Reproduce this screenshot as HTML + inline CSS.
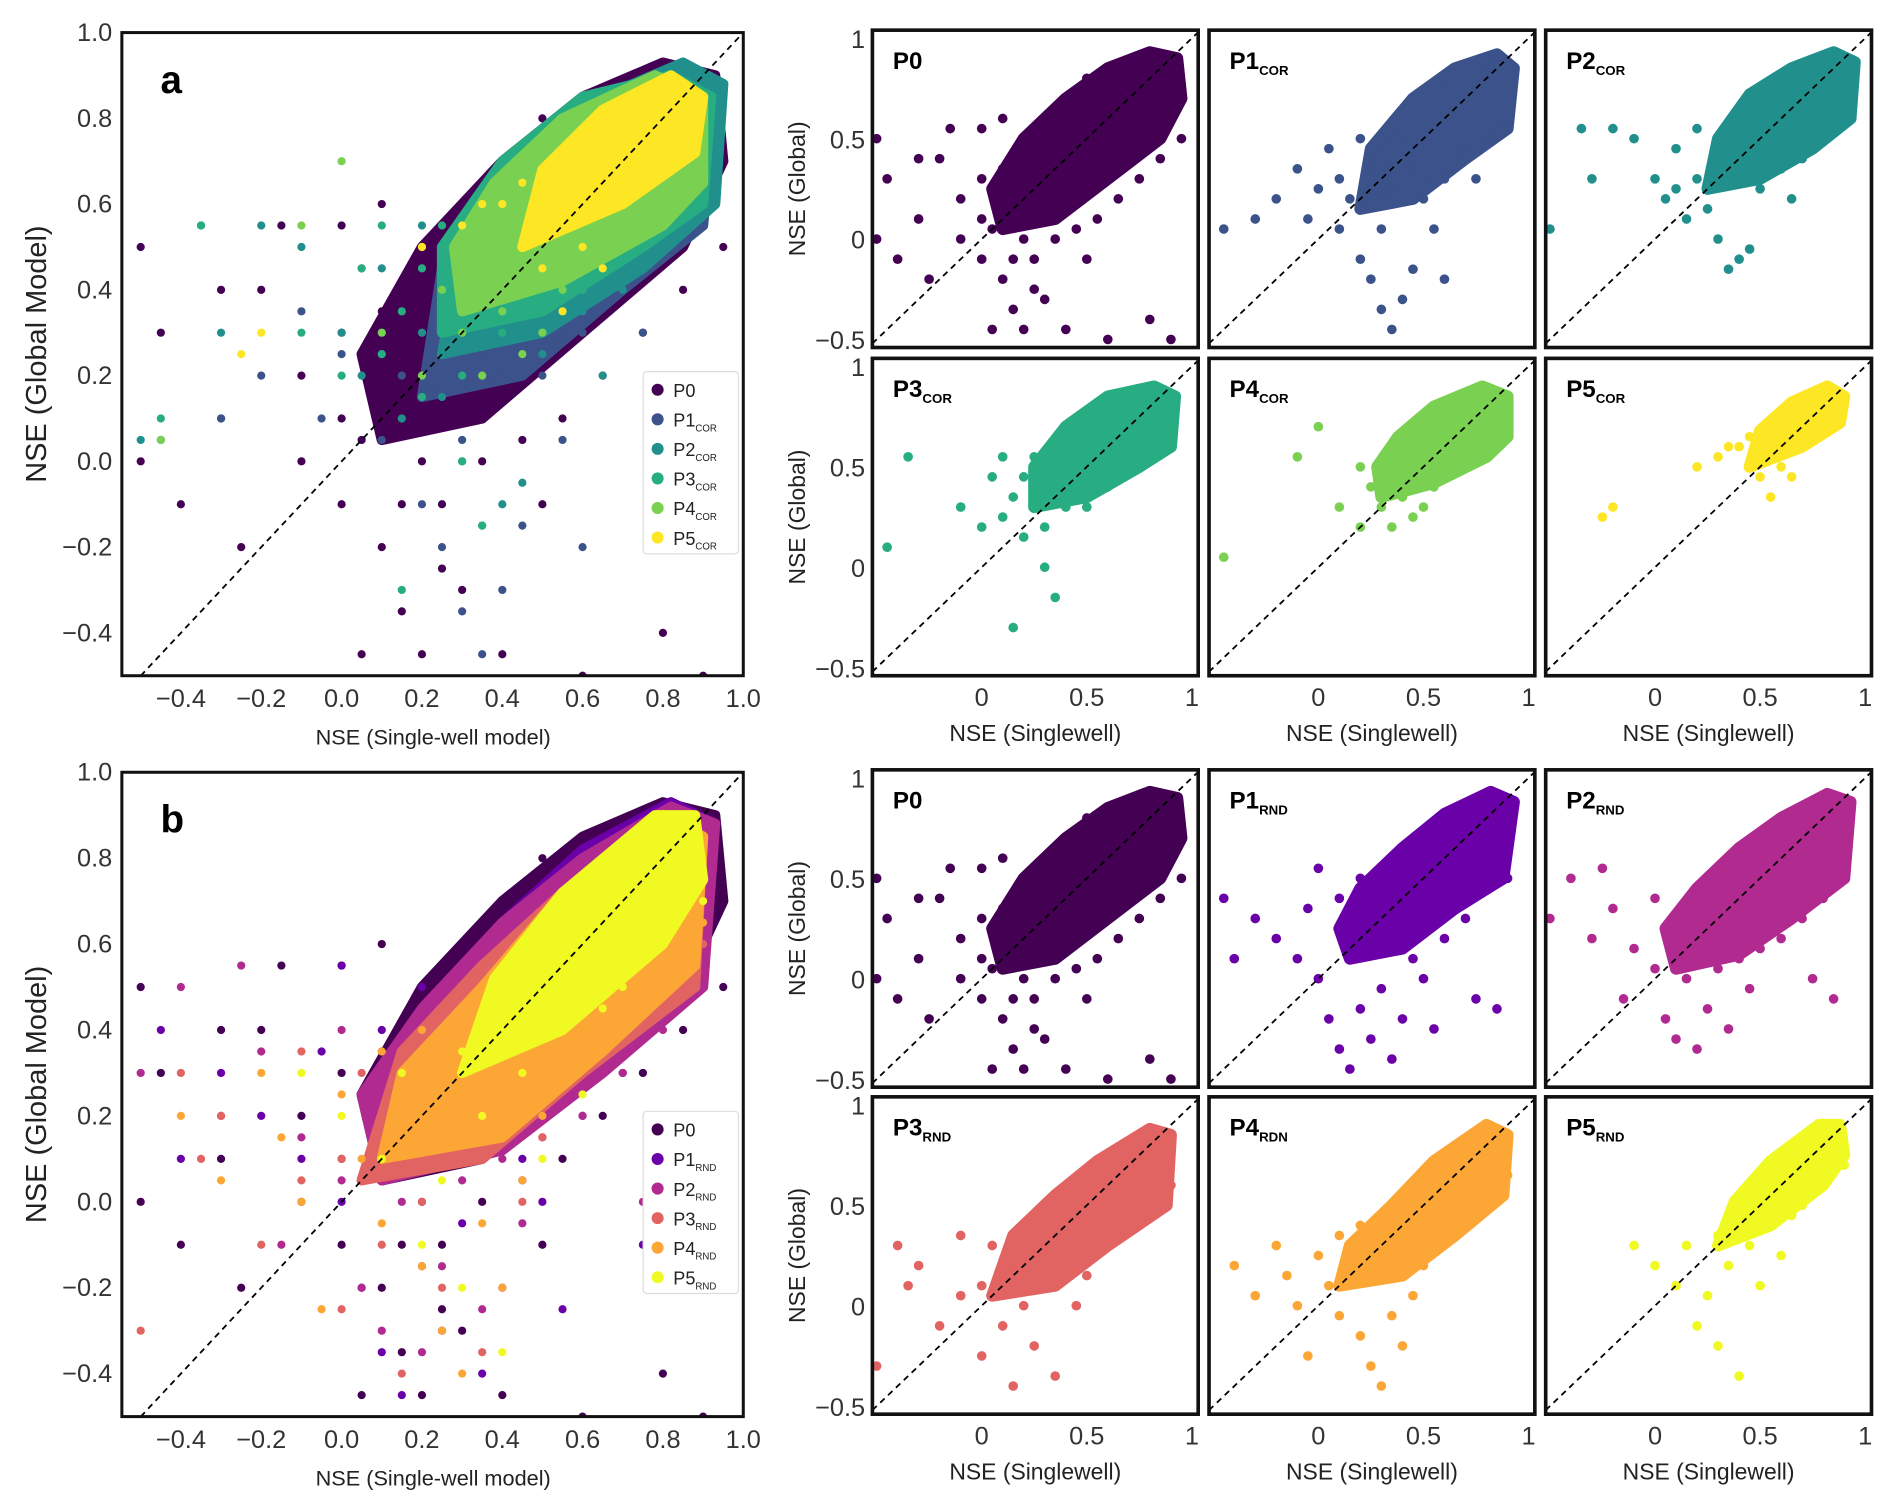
<!DOCTYPE html>
<html><head><meta charset="utf-8"><style>
html,body{margin:0;padding:0;background:#fff}
svg{display:block;font-family:"Liberation Sans",sans-serif}
</style></head><body>
<svg id="fig" width="1892" height="1510" viewBox="0 0 1568 1251.4" preserveAspectRatio="none" xmlns="http://www.w3.org/2000/svg"></svg>
<script>
// ---- data (NSE single-well x, NSE global y) ----
const P0 = [0.5,0.5,0.6,0.6,0.7,0.7,0.8,0.8,0.9,0.85,0.4,0.4,0.3,0.35,0.45,0.6,0.55,0.7,0.65,0.8,0.75,0.88,0.85,0.9,0.6,0.45,0.7,0.55,0.8,0.65,0.9,0.7,0.5,0.3,0.4,0.2,0.35,0.5,0.25,0.3,0.2,0.15,0.55,0.55,0.3,0.25,0.6,0.75,0.5,0.65,0.4,0.55,0.8,0.55,0.7,0.4,0.6,0.35,0.9,0.6,0.55,0.4,0.5,0.8,0.4,0.7,0.3,0.6,0.2,0.45,0.15,0.3,
0.0,0.1,-0.1,0.2,-0.3,0.1,-0.45,0.3,-0.4,-0.1,-0.2,0.4,0.0,-0.1,0.1,-0.2,0.15,-0.35,0.2,-0.45,0.3,-0.3,0.05,-0.45,0.25,-0.1,0.35,0.0,0.5,-0.1,0.4,-0.45,0.8,-0.4,0.9,-0.5,0.6,-0.5,-0.5,0.5,-0.3,0.4,0.1,0.35,0.0,0.3,-0.1,0.0,0.2,0.0,0.3,0.1,0.45,0.05,0.55,0.1,0.65,0.2,0.75,0.3,0.85,0.4,0.95,0.5,-0.5,0.0,-0.25,-0.2,0.1,0.6,0.0,0.55,-0.15,0.55,0.15,-0.1,0.05,0.05,0.25,-0.25];
const P1_COR = [0.1,0.3,-0.3,0.1,-0.45,0.05,0.0,0.25,0.15,0.2,0.2,-0.1,0.25,-0.2,0.3,-0.35,0.35,-0.45,0.4,-0.3,0.45,-0.15,0.2,0.5,-0.1,0.35,0.05,0.45,-0.2,0.2,0.5,0.2,0.6,0.3,0.7,0.45,0.8,0.5,0.9,0.55,0.25,0.4,0.35,0.25,0.4,0.5,0.45,0.35,-0.05,0.1,0.1,0.05,0.3,0.05,0.55,0.05,0.6,-0.2,0.75,0.3];
const P2_COR = [-0.5,0.05,-0.3,0.3,-0.2,0.55,-0.1,0.5,0.0,0.3,0.05,0.2,0.1,0.45,0.15,0.1,0.2,0.3,0.25,0.15,0.3,0.0,0.35,-0.15,0.4,-0.1,0.45,-0.05,0.3,0.45,0.2,0.55,-0.35,0.55,0.5,0.25,0.6,0.35,0.7,0.4,0.8,0.5,0.9,0.6,0.55,0.4,0.4,0.3,0.65,0.2,0.1,0.25];
const P3_COR = [-0.45,0.1,-0.35,0.55,-0.1,0.3,0.0,0.2,0.05,0.45,0.1,0.25,0.15,0.35,0.2,0.15,0.2,0.45,0.25,0.3,0.3,0.2,0.3,0.0,0.35,-0.15,0.15,-0.3,0.4,0.3,0.45,0.4,0.5,0.3,0.6,0.4,0.7,0.5,0.8,0.6,0.9,0.65,0.1,0.55,0.35,0.55,0.25,0.55];
const P4_COR = [-0.45,0.05,-0.1,0.55,0.0,0.7,0.1,0.3,0.2,0.2,0.25,0.4,0.3,0.3,0.35,0.2,0.4,0.35,0.45,0.25,0.5,0.3,0.55,0.4,0.6,0.45,0.7,0.5,0.8,0.6,0.9,0.7,0.3,0.5,0.35,0.6,0.2,0.5];
const P5_COR = [-0.25,0.25,-0.2,0.3,0.2,0.5,0.3,0.55,0.4,0.6,0.45,0.5,0.5,0.45,0.55,0.35,0.6,0.5,0.65,0.45,0.7,0.6,0.75,0.65,0.8,0.7,0.85,0.75,0.35,0.6,0.45,0.65];
const P1_RND = [-0.45,0.4,-0.4,0.1,-0.3,0.3,-0.2,0.2,-0.1,0.1,0.0,0.0,0.05,-0.2,0.1,-0.35,0.15,-0.45,0.2,-0.15,0.25,-0.3,0.3,-0.05,0.35,-0.4,0.4,-0.2,0.45,0.1,0.5,0.0,0.55,-0.25,0.6,0.2,0.7,0.3,0.8,0.45,0.9,0.5,0.75,-0.1,0.85,-0.15,0.1,0.4,0.2,0.5,-0.05,0.35,0.15,0.1,0.3,0.2,0.4,0.35,0.0,0.55];
const P2_RND = [-0.5,0.3,-0.4,0.5,-0.3,0.2,-0.2,0.35,-0.1,0.15,-0.15,-0.1,0.0,0.05,0.05,-0.2,0.1,-0.3,0.15,0.0,0.2,-0.35,0.25,-0.15,0.3,0.05,0.35,-0.25,0.4,0.1,0.45,-0.05,0.5,0.15,0.6,0.2,0.7,0.3,0.8,0.4,0.9,0.5,0.75,0.0,0.85,-0.1,0.1,0.3,0.2,0.45,0.0,0.4,0.3,0.3,-0.25,0.55];
const P3_RND = [-0.5,-0.3,-0.4,0.3,-0.35,0.1,-0.3,0.2,-0.2,-0.1,-0.1,0.05,0.0,0.1,0.0,-0.25,0.05,0.3,0.1,-0.1,0.15,-0.4,0.2,0.0,0.25,-0.2,0.3,0.1,0.35,-0.35,0.4,0.2,0.45,0.0,0.5,0.15,0.6,0.3,0.7,0.4,0.8,0.5,0.9,0.6,-0.1,0.35,0.1,0.2,0.3,0.35];
const P4_RND = [-0.4,0.2,-0.3,0.05,-0.2,0.3,-0.15,0.15,-0.1,0.0,0.0,0.25,0.05,0.1,0.1,-0.05,0.15,0.2,0.2,-0.15,0.25,-0.3,0.3,-0.4,0.35,-0.05,0.4,-0.2,0.45,0.05,0.5,0.2,0.6,0.35,0.7,0.45,0.8,0.55,0.9,0.65,0.1,0.35,0.2,0.4,-0.05,-0.25];
const P5_RND = [-0.1,0.3,0.0,0.2,0.1,0.1,0.15,0.3,0.2,-0.1,0.25,0.05,0.3,-0.2,0.35,0.2,0.4,-0.35,0.45,0.3,0.5,0.1,0.55,0.4,0.6,0.25,0.65,0.45,0.7,0.5,0.8,0.6,0.9,0.7,0.3,0.35,0.4,0.45];
// dense core regions (estimated outline of solid clusters)
const core_P0 = [0.1,0.05,0.35,0.1,0.6,0.3,0.85,0.5,0.95,0.7,0.93,0.9,0.8,0.93,0.6,0.85,0.4,0.7,0.2,0.5,0.05,0.25];
const core_P1_COR = [0.2,0.15,0.45,0.2,0.7,0.4,0.9,0.55,0.93,0.85,0.85,0.92,0.65,0.85,0.45,0.7,0.25,0.45];
const core_P2_COR = [0.25,0.25,0.5,0.3,0.75,0.45,0.93,0.6,0.95,0.88,0.85,0.93,0.65,0.85,0.45,0.72,0.3,0.5];
const core_P3_COR = [0.25,0.3,0.5,0.35,0.75,0.5,0.9,0.6,0.92,0.85,0.82,0.9,0.6,0.85,0.4,0.7,0.25,0.5];
const core_P4_COR = [0.3,0.35,0.55,0.42,0.8,0.55,0.9,0.65,0.9,0.85,0.78,0.9,0.55,0.8,0.38,0.65,0.28,0.5];
const core_P5_COR = [0.45,0.5,0.7,0.6,0.88,0.72,0.9,0.85,0.82,0.9,0.65,0.82,0.5,0.68];
const core_P1_RND = [0.15,0.1,0.4,0.15,0.65,0.35,0.88,0.5,0.93,0.88,0.82,0.93,0.6,0.82,0.4,0.65,0.2,0.45,0.1,0.25];
const core_P2_RND = [0.1,0.05,0.4,0.12,0.65,0.3,0.9,0.5,0.93,0.88,0.82,0.92,0.6,0.8,0.4,0.65,0.2,0.45,0.05,0.25];
const core_P3_RND = [0.05,0.05,0.35,0.1,0.6,0.3,0.88,0.5,0.9,0.85,0.8,0.88,0.55,0.72,0.35,0.55,0.15,0.35];
const core_P4_RND = [0.1,0.1,0.4,0.15,0.65,0.35,0.88,0.55,0.9,0.85,0.8,0.9,0.55,0.72,0.35,0.5,0.15,0.3];
const core_P5_RND = [0.3,0.3,0.55,0.4,0.8,0.6,0.9,0.75,0.88,0.9,0.78,0.9,0.55,0.72,0.38,0.52];
const bigXTicks = [-0.4,-0.2,0.0,0.2,0.4,0.6,0.8,1.0];
const bigYTicks = [1.0,0.8,0.6,0.4,0.2,0.0,-0.2,-0.4];
const smallXTicks = [0,0.5,1];
const smallXLabels = ["0","0.5","1"];
const smallYTicks = [1,0.5,0,-0.5];
const smallYLabels = ["1","0.5","0","-0.5"];

const NS="http://www.w3.org/2000/svg";
const svg=document.getElementById('fig');
function el(tag,attrs,parent){const e=document.createElementNS(NS,tag);for(const k in attrs)e.setAttribute(k,attrs[k]);(parent||svg).appendChild(e);return e;}
let clipN=0;

const vir=['#440154','#3b528b','#21908d','#27ad81','#7ad151','#fde725'];
const pla=['#440154','#6a00a8','#b12a90','#e16462','#fca636','#f0f921'];
const corSeries=[[P0,core_P0],[P1_COR,core_P1_COR],[P2_COR,core_P2_COR],[P3_COR,core_P3_COR],[P4_COR,core_P4_COR],[P5_COR,core_P5_COR]];
const rndSeries=[[P0,core_P0],[P1_RND,core_P1_RND],[P2_RND,core_P2_RND],[P3_RND,core_P3_RND],[P4_RND,core_P4_RND],[P5_RND,core_P5_RND]];

function panel(p,series,colors,r,name){
  const g=el('g',{});
  
  
  const sx=v=>p.x+(v-p.xmin)/(p.xmax-p.xmin)*p.w;
  const sy=v=>p.y+p.h-(v-p.ymin)/(p.ymax-p.ymin)*p.h;
  const id='c'+(clipN++);
  const cp=el('clipPath',{id:id},g);el('rect',{x:p.x,y:p.y,width:p.w,height:p.h},cp);
  const inner=el('g',{'clip-path':'url(#'+id+')'},g);
  series.forEach((s,i)=>{
    const pts=s[0],hull=s[1];
    let d='';
    for(let k=0;k<hull.length;k+=2)d+=(k?'L':'M')+sx(hull[k]).toFixed(1)+','+sy(hull[k+1]).toFixed(1);
    const poly=el('path',{d:d+'Z',fill:colors[i],stroke:colors[i],'stroke-width':r*2.5,'stroke-linejoin':'round'},inner);
    
    
    for(let k=0;k<pts.length;k+=2){
      const c=el('circle',{cx:sx(pts[k]).toFixed(1),cy:sy(pts[k+1]).toFixed(1),r:r,fill:colors[i]},inner);
      
      
    }
  });
  const lo=Math.max(p.xmin,p.ymin),hi=Math.min(p.xmax,p.ymax);
  const dl=el('line',{x1:sx(lo),y1:sy(lo),x2:sx(hi),y2:sy(hi),stroke:'#000','stroke-width':1.5,'stroke-dasharray':'5,4'},inner);
  
  
  const fr=el('rect',{x:p.x,y:p.y,width:p.w,height:p.h,fill:'none',stroke:'#111','stroke-width':p.bw},g);
  
  
  return {sx,sy,g};
}
function text(x,y,str,size,opts){
  const t=el('text',Object.assign({x:x,y:y,'font-size':size,fill:'#333'},opts||{}));
  t.textContent=str;return t;
}

const bigPanels=[{p:{x:101,y:27,w:515,h:533},s:corSeries,c:vir,l:'a',sub:'COR'},{p:{x:101,y:640,w:515,h:534},s:rndSeries,c:pla,l:'b',sub:'RND'}];
bigPanels.forEach((B,bi)=>{
  const p=Object.assign({xmin:-0.547,xmax:1.0,ymin:-0.5,ymax:1.0,bw:2.5},B.p);
  const a=panel(p,B.s,B.c,3.4,'panel-'+B.l);
  const L=text(p.x+32,p.y+50,B.l,32,{'font-weight':'bold',fill:'#000'});
  
  bigXTicks.forEach(v=>{const t=text(a.sx(v),p.y+p.h+26,(v<0?'\u2212':'')+Math.abs(v).toFixed(1),21,{'text-anchor':'middle'});
    });
  bigYTicks.forEach(v=>{const t=text(p.x-8,a.sy(v)+7,(v<0?'\u2212':'')+Math.abs(v).toFixed(1),21,{'text-anchor':'end'});
    });
  const xt=text(359,p.y+p.h+57,'NSE (Single-well model)',18,{'text-anchor':'middle',fill:'#222'});
  
  const cy=p.y+p.h/2;
  const yt=text(38,cy,'NSE (Global Model)',24,{'text-anchor':'middle',fill:'#222',transform:'rotate(-90 38 '+cy+')'});
  
  const lg=el('g',{});
  
  const ly=bi?921:308;
  el('rect',{x:533,y:ly,width:79,height:151,fill:'#fff',stroke:'#ddd','stroke-width':1,rx:3},lg);
  for(let i=0;i<6;i++){
    const yy=ly+15+i*24.5;
    el('circle',{cx:545,cy:yy,r:5,fill:B.c[i]},lg);
    const t=el('text',{x:558,y:yy+6,'font-size':15,fill:'#222'},lg);
    t.textContent='P'+i;
    if(i>0){const ts=el('tspan',{'font-size':8,dy:4},t);ts.textContent=B.sub;}
    
  }
});

const cols=[723,1002,1281], rows=[25,297,638,909];
const labelsTop=['P0','P1','P2','P3','P4','P5'];
const subsTop=['','COR','COR','COR','COR','COR'];
const subsBot=['','RND','RND','RND','RDN','RND'];
for(let blk=0;blk<2;blk++){
  for(let i=0;i<6;i++){
    const r=blk*2+Math.floor(i/3), c=i%3;
    const p={x:cols[c],y:rows[r],w:270,h:263,xmin:-0.52,xmax:1.03,ymin:-0.54,ymax:1.04,bw:3};
    const ser=blk?rndSeries[i]:corSeries[i];
    const col=blk?pla[i]:vir[i];
    const a=panel(p,[ser],[col],4,'small-panel-'+labelsTop[i]+(blk?'-rnd':'-cor'));
    const t=text(p.x+17,p.y+32,labelsTop[i],20,{'font-weight':'bold',fill:'#000'});
    const sub=blk?subsBot[i]:subsTop[i];
    if(sub){const ts=el('tspan',{'font-size':11,dy:5},t);ts.textContent=sub;}
    
    if(c===0){
      smallYTicks.forEach((v,k)=>{const tt=text(p.x-6,a.sy(v)+8,smallYLabels[k].replace('-','\u2212'),21,{'text-anchor':'end'});
        });
      const cy=p.y+p.h/2;
      const yt=text(667,cy,'NSE (Global)',19,{'text-anchor':'middle',fill:'#222',transform:'rotate(-90 667 '+cy+')'});
      
    }
    if(r%2===1){
      smallXTicks.forEach((v,k)=>{const tt=text(a.sx(v),p.y+p.h+25,smallXLabels[k],21,{'text-anchor':'middle'});
        });
      const xt=text(p.x+p.w/2,p.y+p.h+54,'NSE (Singlewell)',19,{'text-anchor':'middle',fill:'#222'});
      
    }
  }
}
</script>
</body></html>
